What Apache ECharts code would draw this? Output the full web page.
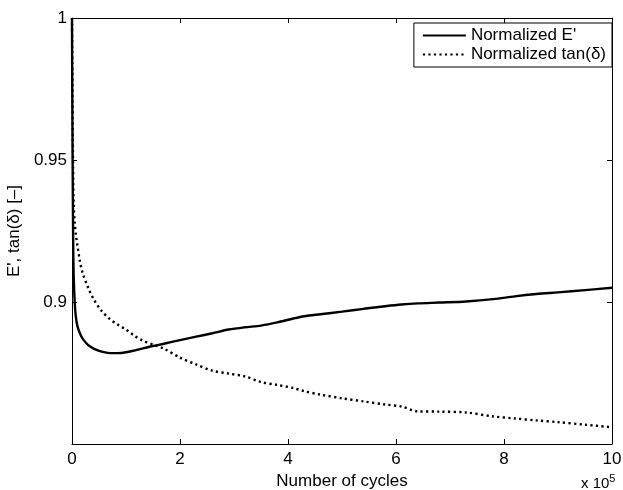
<!DOCTYPE html>
<html>
<head>
<meta charset="utf-8">
<script src="https://cdn.jsdelivr.net/npm/echarts@6/dist/echarts.min.js"></script>
<style>
  html, body { margin: 0; padding: 0; background: #fff; }
  #chart { width: 623px; height: 490px; }
</style>
</head>
<body>
<div id="chart"></div>
<script>
// number of cycles, in units of 1e5
const cycles = [0, 0.005, 0.01, 0.02, 0.03, 0.05, 0.07, 0.1, 0.15, 0.2, 0.3, 0.4, 0.55, 0.7, 0.85,
  1.0, 1.15, 1.3, 1.5, 1.7, 2.0, 2.3, 2.6, 2.9, 3.2, 3.5, 3.8, 4.1, 4.3, 4.6, 5.0, 5.4, 5.8,
  6.1, 6.4, 6.8, 7.3, 7.8, 8.2, 8.6, 9.0, 9.5, 10];

const ePrime = [1.0, 0.975, 0.955, 0.925, 0.910, 0.900, 0.895, 0.8915, 0.8888, 0.8870, 0.8848, 0.8836,
  0.8825, 0.8820, 0.8820, 0.8823, 0.8829, 0.8836, 0.8845, 0.8853, 0.8866, 0.8878, 0.8890, 0.8903,
  0.8911, 0.8917, 0.8928, 0.8942, 0.8950, 0.8957, 0.8966, 0.8976, 0.8985, 0.8991, 0.8995, 0.8998,
  0.9002, 0.9010, 0.9020, 0.9028, 0.9034, 0.9042, 0.9050];

const tanDelta = [1.0, 0.985, 0.970, 0.948, 0.935, 0.928, 0.924, 0.920, 0.914, 0.910, 0.905, 0.901,
  0.8968, 0.8940, 0.8920, 0.8903, 0.8882, 0.8865, 0.8850, 0.8836, 0.8804, 0.8780, 0.8758, 0.8748,
  0.8738, 0.8718, 0.8708, 0.8697, 0.8686, 0.8674, 0.8661, 0.8650, 0.8639, 0.8632, 0.8615, 0.8614,
  0.8611, 0.8597, 0.8590, 0.8583, 0.8577, 0.8568, 0.8559];

const xTicks = [0, 2, 4, 6, 8, 10];
const yTicks = [0.85, 0.9, 0.95, 1];
const seriesNames = ['Normalized E\'', 'Normalized tan(\u03b4)'];

const FONT = 'Liberation Sans, Arial, Helvetica, sans-serif';
const FS = 17;

const chart = echarts.init(document.getElementById('chart'), null, { renderer: 'canvas' });

const axisCommon = {
  axisLine: { show: true, onZero: false, lineStyle: { color: '#000', width: 1 } },
  axisTick: { show: true, inside: true, length: 5, lineStyle: { color: '#000' } },
  splitLine: { show: false }
};

chart.setOption({
  animation: false,
  backgroundColor: '#fff',
  color: ['#000', '#000'],
  textStyle: { fontFamily: FONT },
  grid: { left: 72, right: 11, top: 18, bottom: 46, containLabel: false, outerBoundsMode: 'none' },
  legend: {
    orient: 'vertical',
    right: 11,
    top: 23,
    data: seriesNames,
    backgroundColor: '#fff',
    borderColor: '#000',
    borderWidth: 1,
    borderRadius: 0,
    padding: [4, 6, 4, 8],
    itemGap: 2,
    itemWidth: 43,
    itemHeight: 14,
    itemStyle: { color: 'rgba(0,0,0,0)', borderWidth: 0 },
    textStyle: { fontFamily: FONT, fontSize: FS, color: '#000' }
  },
  xAxis: [
    Object.assign({
      type: 'value',
      min: xTicks[0],
      max: xTicks[xTicks.length - 1],
      interval: xTicks[1] - xTicks[0],
      name: 'Number of cycles',
      nameLocation: 'middle',
      nameGap: 23,
      nameTextStyle: { fontFamily: FONT, fontSize: FS, color: '#000' },
      axisLabel: { fontFamily: FONT, fontSize: FS, color: '#000', margin: 7 }
    }, axisCommon),
    Object.assign({
      type: 'value',
      position: 'top',
      min: xTicks[0],
      max: xTicks[xTicks.length - 1],
      interval: xTicks[1] - xTicks[0],
      axisLabel: { show: false }
    }, axisCommon)
  ],
  yAxis: [
    Object.assign({
      type: 'value',
      min: yTicks[0],
      max: yTicks[yTicks.length - 1],
      interval: 0.05,
      name: 'E\', tan(\u03b4) [\u2013]',
      nameLocation: 'middle',
      nameGap: 46,
      nameTextStyle: { fontFamily: FONT, fontSize: FS, color: '#000' },
      axisLabel: {
        fontFamily: FONT, fontSize: FS, color: '#000', margin: 5,
        showMinLabel: false,
        formatter: v => String(+v.toFixed(2))
      }
    }, axisCommon),
    Object.assign({
      type: 'value',
      position: 'right',
      min: yTicks[0],
      max: yTicks[yTicks.length - 1],
      interval: 0.05,
      axisLabel: { show: false }
    }, axisCommon)
  ],
  graphic: [
    {
      type: 'text',
      left: 581,
      top: 473,
      style: {
        text: '{b|x 10}{s|5}',
        fontFamily: FONT,
        rich: {
          b: { fontSize: FS - 2, fontFamily: FONT, fill: '#000' },
          s: { fontSize: 11, fontFamily: FONT, fill: '#000', padding: [0, 0, 10, 0] }
        }
      }
    }
  ],
  series: [
    {
      name: seriesNames[0],
      type: 'line',
      data: cycles.map((c, i) => [c, ePrime[i]]),
      showSymbol: false,
      symbol: 'none',
      smooth: 0.3,
      itemStyle: { color: '#000' },
      lineStyle: { color: '#000', width: 2.4 }
    },
    {
      name: seriesNames[1],
      type: 'line',
      data: cycles.map((c, i) => [c, tanDelta[i]]),
      showSymbol: false,
      symbol: 'none',
      smooth: 0.3,
      itemStyle: { color: '#000' },
      lineStyle: { color: '#000', width: 2.4, type: [2.2, 3.3], cap: 'butt' }
    }
  ]
});
</script>
</body>
</html>
